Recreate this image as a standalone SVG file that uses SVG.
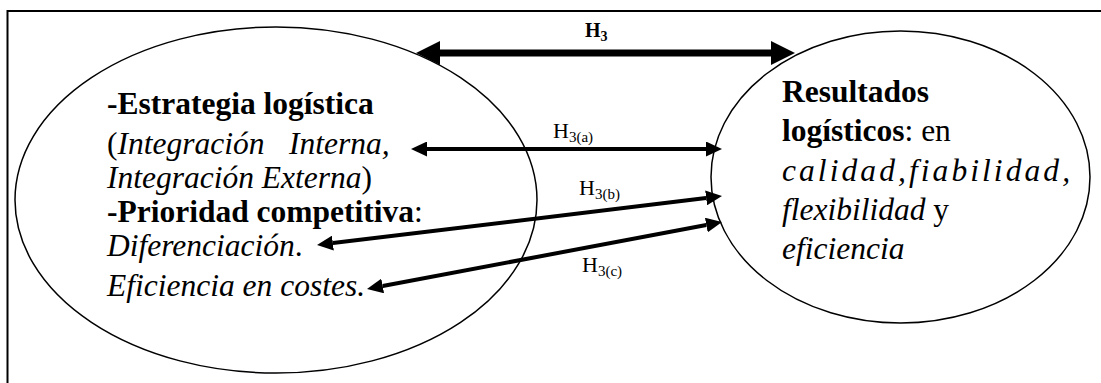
<svg xmlns="http://www.w3.org/2000/svg" width="1101" height="383" viewBox="0 0 1101 383">
<style>
.t{font-family:"Liberation Serif","Times New Roman",serif;fill:#000}
.b{font-weight:bold}
.i{font-style:italic}
.big{font-size:31.5px}
.lab{font-size:22px}
.sub{font-size:15px}
.ell{fill:none;stroke:#000;stroke-width:1.5}
.thick{stroke:#000;stroke-width:7;fill:none}
.thin{stroke:#000;stroke-width:4;fill:none}
</style>
<defs>
<marker id="hb" viewBox="0 -12 24 24" refX="0" refY="0" markerWidth="24" markerHeight="24" markerUnits="userSpaceOnUse" orient="auto-start-reverse"><path d="M0,-12 L24,0 L0,12 z" fill="#000"/></marker>
<marker id="hs" viewBox="0 -7.5 16 15" refX="0" refY="0" markerWidth="16" markerHeight="15" markerUnits="userSpaceOnUse" orient="auto-start-reverse"><path d="M0,-7.5 L16,0 L0,7.5 z" fill="#000"/></marker>
</defs>
<rect x="0" y="0" width="1101" height="383" fill="#fff"/>
<path d="M7.5,383 V11 H1101" fill="none" stroke="#000" stroke-width="2"/>
<g id="node-estrategia">
<ellipse class="ell" cx="276" cy="200" rx="261" ry="173"/>
<text class="t big" x="107" y="114"><tspan class="b">-Estrategia logística</tspan></text>
<text class="t big" x="107" y="154">(<tspan class="i">Integración</tspan><tspan class="i" x="289">Interna,</tspan></text>
<text class="t big" x="107" y="188"><tspan class="i">Integración Externa</tspan>)</text>
<text class="t big" x="107" y="222"><tspan class="b">-Prioridad competitiva</tspan>:</text>
<text class="t big" x="107" y="256"><tspan class="i">Diferenciación</tspan>.</text>
<text class="t big i" x="107" y="296">Eficiencia en costes.</text>
</g>
<g id="node-resultados">
<ellipse class="ell" cx="900.5" cy="177" rx="189.5" ry="146"/>
<text class="t big" x="782" y="102"><tspan class="b">Resultados</tspan></text>
<text class="t big" x="782" y="141"><tspan class="b">logísticos</tspan>: en</text>
<text class="t big i" x="782" y="181" textLength="288" lengthAdjust="spacing">calidad,fiabilidad,</text>
<text class="t big" x="782" y="220"><tspan class="i">flexibilidad</tspan> y</text>
<text class="t big i" x="782" y="259">eficiencia</text>
</g>
<g id="connectors">
<line class="thick" x1="440" y1="53" x2="771" y2="53" marker-start="url(#hb)" marker-end="url(#hb)"/>
<line class="thin" x1="427" y1="149" x2="706" y2="149" marker-start="url(#hs)" marker-end="url(#hs)"/>
<line class="thin" x1="332.9" y1="243.1" x2="706.1" y2="197.9" marker-start="url(#hs)" marker-end="url(#hs)"/>
<line class="thin" x1="382.7" y1="286" x2="706.3" y2="225" marker-start="url(#hs)" marker-end="url(#hs)"/>
<text class="t b" x="585" y="37" font-size="20">H<tspan font-size="14" dy="4">3</tspan></text>
<text class="t lab" x="553" y="138">H<tspan class="sub" dy="4">3(a)</tspan></text>
<text class="t lab" x="579" y="195">H<tspan class="sub" dy="4">3(b)</tspan></text>
<text class="t lab" x="582" y="272">H<tspan class="sub" dy="4">3(c)</tspan></text>
</g>
</svg>
